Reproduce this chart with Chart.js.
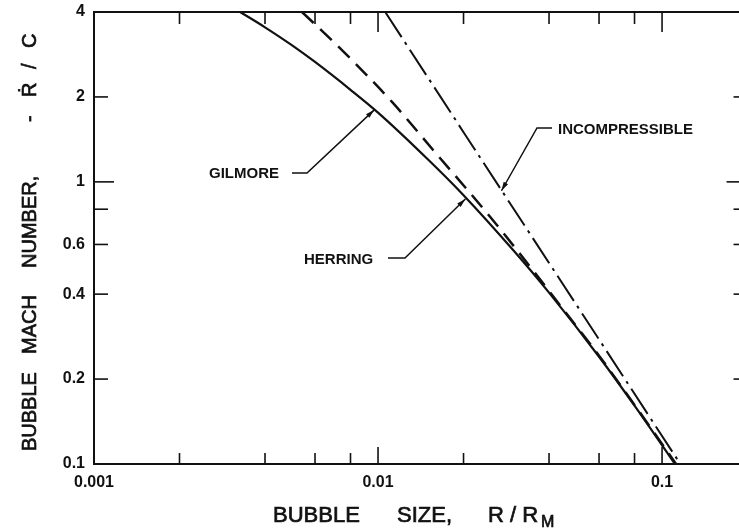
<!DOCTYPE html>
<html>
<head>
<meta charset="utf-8">
<script src="https://cdn.jsdelivr.net/npm/chart.js@4"></script>
<style>
  html, body { margin: 0; padding: 0; background: #fff; }
</style>
</head>
<body>
<canvas id="chart" width="739" height="531"></canvas>
<script>
// curves (R/Rm vs -Rdot/C)
const gilmoreX = [0.00327, 0.004, 0.005, 0.006, 0.008, 0.01, 0.015, 0.02, 0.03, 0.04, 0.06, 0.08, 0.111];
const gilmoreY = [4.0, 3.53, 3.04, 2.66, 2.12, 1.76, 1.20, 0.897, 0.571, 0.405, 0.240, 0.161, 0.1];

const herringX = [0.0054, 0.00765, 0.0112, 0.0156, 0.0248, 0.0351, 0.045, 0.06, 0.08, 0.112];
const herringY = [4.0, 2.86, 1.92, 1.30, 0.752, 0.486, 0.352, 0.242, 0.162, 0.1];

const incompX = [0.0106, 0.02, 0.05, 0.116];
const incompY = [4.0, 1.50, 0.366, 0.1];

// the frame runs on to 0.2 but the page is cut at about 0.187
const xMin = 0.001;
const xFrameEnd = 0.2;
const xVisibleMax = 0.1866;

const xTickValues = [0.001, 0.01, 0.1];
const xTickLabels = ['0.001', '0.01', '0.1'];
const xMinorTicks = [0.002, 0.004, 0.006, 0.008, 0.02, 0.04, 0.06, 0.08];
const xMajorTicks = [0.01, 0.1];

const yTickValues = [0.1, 0.2, 0.4, 0.6, 1, 2, 4];
const yTickLabels = ['0.1', '0.2', '0.4', '0.6', '1', '2', '4'];
const yMinorTicks = [0.2, 0.4, 0.6, 0.8, 2];
const yMajorTicks = [1];

// callouts: label text, where the arrow points (data), leader elbow (px)
const notes = [
  { text: 'GILMORE', tipX: 0.0097, tipY: 1.80, textX: 209, textY: 174, elbow: [[292, 173], [307, 173]] },
  { text: 'HERRING', tipX: 0.0203, tipY: 0.87, textX: 304, textY: 260, elbow: [[388, 258], [405, 258]] },
  { text: 'INCOMPRESSIBLE', tipX: 0.0272, tipY: 0.93, textX: 558, textY: 130, elbow: [[552, 128], [537, 128]] }
];

const ink = '#111';
const fontFamily = "'Liberation Sans', Arial, Helvetica, sans-serif";

function toPoints(xs, ys) {
  return xs.map((x, i) => ({ x: x, y: ys[i] }));
}

function line(ctx, x1, y1, x2, y2) {
  ctx.beginPath();
  ctx.moveTo(x1, y1);
  ctx.lineTo(x2, y2);
  ctx.stroke();
}

function heavyText(ctx, text, x, y) {
  ctx.fillText(text, x, y);
  ctx.strokeText(text, x, y);
}

const frameAndNotes = {
  id: 'frameAndNotes',
  afterDraw(chart) {
    const { ctx, chartArea: a, scales: { x, y } } = chart;
    const right = x.getPixelForValue(xFrameEnd);
    ctx.save();
    ctx.strokeStyle = ink;
    ctx.fillStyle = ink;

    // top and right edges of the frame
    ctx.lineWidth = 2;
    line(ctx, a.left, a.top, right, a.top);
    line(ctx, right, a.top, right, a.bottom);

    // inward ticks
    ctx.lineWidth = 1.6;
    xMinorTicks.forEach(v => {
      const px = x.getPixelForValue(v);
      line(ctx, px, a.bottom, px, a.bottom - 11);
      line(ctx, px, a.top, px, a.top + 12);
    });
    xMajorTicks.forEach(v => {
      const px = x.getPixelForValue(v);
      line(ctx, px, a.bottom, px, a.bottom - 17);
      line(ctx, px, a.top, px, a.top + 20);
    });
    yMinorTicks.forEach(v => {
      const py = y.getPixelForValue(v);
      line(ctx, a.left, py, a.left + 14, py);
      line(ctx, right, py, right - 14, py);
    });
    yMajorTicks.forEach(v => {
      const py = y.getPixelForValue(v);
      line(ctx, a.left, py, a.left + 20, py);
      line(ctx, right, py, right - 21, py);
    });

    // callouts
    ctx.font = 'bold 15px ' + fontFamily;
    ctx.textBaseline = 'middle';
    ctx.textAlign = 'left';
    ctx.lineWidth = 1.5;
    notes.forEach(n => {
      ctx.fillText(n.text, n.textX, n.textY);
      const tx = x.getPixelForValue(n.tipX);
      const ty = y.getPixelForValue(n.tipY);
      const [p0, p1] = n.elbow;
      ctx.beginPath();
      ctx.moveTo(p0[0], p0[1]);
      ctx.lineTo(p1[0], p1[1]);
      ctx.lineTo(tx, ty);
      ctx.stroke();
      const ang = Math.atan2(ty - p1[1], tx - p1[0]);
      ctx.beginPath();
      ctx.moveTo(tx, ty);
      ctx.lineTo(tx - 9 * Math.cos(ang) + 2.5 * Math.sin(ang), ty - 9 * Math.sin(ang) - 2.5 * Math.cos(ang));
      ctx.lineTo(tx - 9 * Math.cos(ang) - 2.5 * Math.sin(ang), ty - 9 * Math.sin(ang) + 2.5 * Math.cos(ang));
      ctx.closePath();
      ctx.fill();
    });

    // x axis title with subscript
    ctx.textBaseline = 'alphabetic';
    ctx.lineWidth = 0.7;
    ctx.font = '22px ' + fontFamily;
    heavyText(ctx, 'BUBBLE', 273, 522);
    heavyText(ctx, 'SIZE,', 397, 522);
    heavyText(ctx, 'R / R', 488, 522);
    ctx.font = '16px ' + fontFamily;
    heavyText(ctx, 'M', 541, 527);

    // y axis title, rotated
    ctx.translate(36, 0);
    ctx.rotate(-Math.PI / 2);
    ctx.font = '20px ' + fontFamily;
    heavyText(ctx, 'BUBBLE', -451, 0);
    heavyText(ctx, 'MACH', -354, 0);
    heavyText(ctx, 'NUMBER,', -268, 0);
    heavyText(ctx, '-', -122, 0);
    heavyText(ctx, 'Ṙ', -97, 0);
    heavyText(ctx, '/', -69, 0);
    heavyText(ctx, 'C', -48, 0);
    ctx.restore();
  }
};

const ctx = document.getElementById('chart').getContext('2d');
const chart = new Chart(ctx, {
  type: 'scatter',
  data: {
    datasets: [
      {
        label: 'GILMORE',
        data: toPoints(gilmoreX, gilmoreY),
        showLine: true,
        borderColor: ink,
        borderWidth: 2.2,
        pointRadius: 0,
        cubicInterpolationMode: 'monotone'
      },
      {
        label: 'HERRING',
        data: toPoints(herringX, herringY),
        showLine: true,
        borderColor: ink,
        borderWidth: 2.5,
        borderDash: [16, 9],
        pointRadius: 0,
        cubicInterpolationMode: 'monotone'
      },
      {
        label: 'INCOMPRESSIBLE',
        data: toPoints(incompX, incompY),
        showLine: true,
        borderColor: ink,
        borderWidth: 2,
        borderDash: [30, 6, 3, 6],
        pointRadius: 0,
        tension: 0
      }
    ]
  },
  options: {
    responsive: false,
    animation: false,
    devicePixelRatio: 1,
    layout: { padding: { top: 12, right: 0, bottom: 0, left: 0 } },
    plugins: {
      legend: { display: false },
      tooltip: { enabled: false }
    },
    scales: {
      x: {
        type: 'logarithmic',
        min: xMin,
        max: xVisibleMax,
        grid: { display: false, drawTicks: false },
        border: { display: true, color: ink, width: 2 },
        afterBuildTicks: s => { s.ticks = xTickValues.map(v => ({ value: v })); },
        afterFit: s => { s.height = 67; s.paddingLeft = 0; s.paddingRight = 0; },
        ticks: {
          autoSkip: false,
          maxRotation: 0,
          padding: 9,
          color: ink,
          font: { family: fontFamily, size: 16, weight: 'bold' },
          callback: (v, i) => xTickLabels[i]
        }
      },
      y: {
        type: 'logarithmic',
        min: 0.1,
        max: 4,
        grid: { display: false, drawTicks: false },
        border: { display: true, color: ink, width: 2 },
        afterBuildTicks: s => { s.ticks = yTickValues.map(v => ({ value: v })); },
        afterFit: s => { s.width = 94; s.paddingTop = 0; s.paddingBottom = 0; },
        ticks: {
          autoSkip: false,
          padding: 9,
          color: ink,
          font: { family: fontFamily, size: 16, weight: 'bold' },
          callback: (v, i) => yTickLabels[i]
        }
      }
    }
  },
  plugins: [frameAndNotes]
});
</script>
</body>
</html>
